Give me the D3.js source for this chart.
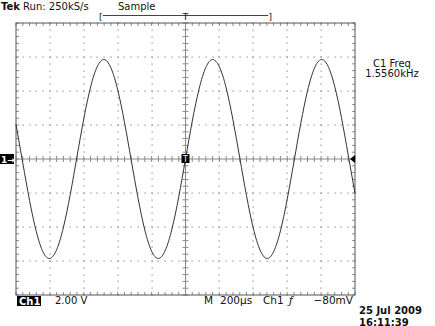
<!DOCTYPE html>
<html>
<head>
<meta charset="utf-8">
<script src="https://cdn.jsdelivr.net/npm/d3@7"></script>
<style>
  body { margin: 0; background: #fff; }
  text { font-family: "DejaVu Sans", sans-serif; fill: #111; }
</style>
</head>
<body>
<div id="chart"></div>
<script>
// time in microseconds (200us/div), voltage in volts (2V/div)
const times = d3.range(-1000, 1001, 40)
const volts = [
  2.02, -0.23, -2.44, -4.28, -5.48, -5.85, -5.33, -4.01, -2.09, 0.15,
  2.37, 4.23, 5.45, 5.85, 5.36, 4.07, 2.16, -0.08, -2.30, -4.18,
  -5.42, -5.85, -5.39, -4.12, -2.23, 0.00, 2.23, 4.12, 5.39, 5.85,
  5.42, 4.18, 2.30, 0.08, -2.16, -4.07, -5.36, -5.85, -5.45, -4.23,
  -2.37, -0.15, 2.09, 4.01, 5.33, 5.85, 5.48, 4.28, 2.44, 0.23, -2.02
]
const xDivs = d3.range(-1000, 1001, 200)
const yDivs = d3.range(-8, 8.01, 2)

const width = 435
const height = 326
const plot = { left: 16, right: 355, top: 23, bottom: 295 }

const svg = d3.select("#chart").append("svg")
  .attr("width", width)
  .attr("height", height)

const xPositionScale = d3.scaleLinear()
  .domain([-1000, 1000])
  .range([plot.left, plot.right])

const yPositionScale = d3.scaleLinear()
  .domain([-8, 8])
  .range([plot.bottom, plot.top])

const minorX = d3.range(-1000, 1001, 40)
const minorY = d3.range(-8, 8.01, 0.4)
const gridColor = '#8a8a8a'

// dotted graticule
const dots = []
xDivs.slice(1, -1).filter(d => d !== 0).forEach(t => {
  minorY.forEach(v => dots.push([t, v]))
})
yDivs.slice(1, -1).filter(d => d !== 0).forEach(v => {
  minorX.forEach(t => dots.push([t, v]))
})
svg.append('g').selectAll('rect')
  .data(dots)
  .join('rect')
  .attr('x', d => Math.round(xPositionScale(d[0])) - 0.5)
  .attr('y', d => Math.round(yPositionScale(d[1])) - 0.5)
  .attr('width', 1.2)
  .attr('height', 1.2)
  .attr('fill', gridColor)

// center crosshair with ticks
const cx = xPositionScale(0)
const cy = yPositionScale(0)
svg.append('line')
  .attr('x1', plot.left).attr('x2', plot.right)
  .attr('y1', cy).attr('y2', cy)
  .attr('stroke', gridColor)
svg.append('line')
  .attr('x1', cx).attr('x2', cx)
  .attr('y1', plot.top).attr('y2', plot.bottom)
  .attr('stroke', gridColor)
svg.append('g').selectAll('line')
  .data(minorX)
  .join('line')
  .attr('x1', d => xPositionScale(d)).attr('x2', d => xPositionScale(d))
  .attr('y1', cy - 3).attr('y2', cy + 3)
  .attr('stroke', gridColor)
svg.append('g').selectAll('line')
  .data(minorY)
  .join('line')
  .attr('y1', d => yPositionScale(d)).attr('y2', d => yPositionScale(d))
  .attr('x1', cx - 3).attr('x2', cx + 3)
  .attr('stroke', gridColor)

// border ticks
svg.append('g').selectAll('line')
  .data(minorX)
  .join('line')
  .attr('x1', d => xPositionScale(d)).attr('x2', d => xPositionScale(d))
  .attr('y1', plot.top).attr('y2', plot.top + 3)
  .attr('stroke', gridColor)
svg.append('g').selectAll('line')
  .data(minorX)
  .join('line')
  .attr('x1', d => xPositionScale(d)).attr('x2', d => xPositionScale(d))
  .attr('y1', plot.bottom).attr('y2', plot.bottom - 3)
  .attr('stroke', gridColor)
svg.append('g').selectAll('line')
  .data(minorY)
  .join('line')
  .attr('y1', d => yPositionScale(d)).attr('y2', d => yPositionScale(d))
  .attr('x1', plot.left).attr('x2', plot.left + 3)
  .attr('stroke', gridColor)
svg.append('g').selectAll('line')
  .data(minorY)
  .join('line')
  .attr('y1', d => yPositionScale(d)).attr('y2', d => yPositionScale(d))
  .attr('x1', plot.right).attr('x2', plot.right - 3)
  .attr('stroke', gridColor)

svg.append('rect')
  .attr('x', plot.left)
  .attr('y', plot.top)
  .attr('width', plot.right - plot.left)
  .attr('height', plot.bottom - plot.top)
  .attr('fill', 'none')
  .attr('stroke', '#555')

// the trace
const line = d3.line()
  .x((d, i) => xPositionScale(times[i]))
  .y(d => yPositionScale(d))
  .curve(d3.curveNatural)

svg.append('path')
  .datum(volts)
  .attr('d', line)
  .attr('fill', 'none')
  .attr('stroke', '#333')
  .attr('stroke-width', 1)

// markers
svg.append('rect')
  .attr('x', 0).attr('y', cy - 5)
  .attr('width', 14).attr('height', 10)
  .attr('fill', '#000')
svg.append('text')
  .attr('x', 1).attr('y', cy + 4)
  .attr('font-size', 9)
  .attr('font-weight', 'bold')
  .style('fill', '#fff')
  .text('1→')

svg.append('rect')
  .attr('x', cx - 4).attr('y', cy - 5)
  .attr('width', 8).attr('height', 9)
  .attr('fill', '#000')
svg.append('text')
  .attr('x', cx).attr('y', cy + 3)
  .attr('text-anchor', 'middle')
  .attr('font-size', 8)
  .style('fill', '#fff')
  .text('T')

svg.append('path')
  .attr('d', `M${plot.right - 5},${cy} L${plot.right},${cy - 4} L${plot.right},${cy + 4} Z`)
  .attr('fill', '#000')

// top bar
svg.append('text')
  .attr('x', 1).attr('y', 10)
  .attr('font-size', 10)
  .html('<tspan font-weight="bold">Tek</tspan> Run: 250kS/s')
svg.append('text')
  .attr('x', 118).attr('y', 10)
  .attr('font-size', 10)
  .text('Sample')

const bracketLeft = xPositionScale(-500)
const bracketRight = xPositionScale(500)
svg.append('line')
  .attr('x1', bracketLeft + 2).attr('x2', bracketRight - 2)
  .attr('y1', 15.5).attr('y2', 15.5)
  .attr('stroke', '#444')
svg.append('text')
  .attr('x', bracketLeft).attr('y', 20)
  .attr('font-size', 9).attr('text-anchor', 'middle')
  .text('[')
svg.append('text')
  .attr('x', bracketRight).attr('y', 20)
  .attr('font-size', 9).attr('text-anchor', 'middle')
  .text(']')
svg.append('text')
  .attr('x', cx).attr('y', 20)
  .attr('font-size', 9).attr('text-anchor', 'middle')
  .text('T')

// measurement
svg.append('text')
  .attr('x', 392).attr('y', 67)
  .attr('font-size', 10).attr('text-anchor', 'middle')
  .text('C1 Freq')
svg.append('text')
  .attr('x', 392).attr('y', 77)
  .attr('font-size', 10).attr('text-anchor', 'middle')
  .text('1.5560kHz')

// bottom bar
svg.append('rect')
  .attr('x', 17).attr('y', 296)
  .attr('width', 24).attr('height', 10)
  .attr('fill', '#000')
svg.append('text')
  .attr('x', 19).attr('y', 305)
  .attr('font-size', 10).attr('font-weight', 'bold')
  .style('fill', '#fff')
  .text('Ch1')
svg.append('text')
  .attr('x', 55).attr('y', 304)
  .attr('font-size', 10)
  .text('2.00 V')
svg.append('text')
  .attr('x', 204).attr('y', 304)
  .attr('font-size', 10.5)
  .text('M')
svg.append('text')
  .attr('x', 220).attr('y', 304)
  .attr('font-size', 10.5)
  .text('200µs')
svg.append('text')
  .attr('x', 263).attr('y', 304)
  .attr('font-size', 10.5)
  .text('Ch1')
svg.append('text')
  .attr('x', 289).attr('y', 304)
  .attr('font-size', 10.5)
  .attr('font-style', 'italic')
  .text('ƒ')
svg.append('text')
  .attr('x', 353).attr('y', 304)
  .attr('font-size', 10.5).attr('text-anchor', 'end')
  .text('−80mV')
svg.append('text')
  .attr('x', 359).attr('y', 314)
  .attr('font-size', 10)
  .attr('font-weight', 'bold')
  .text('25 Jul 2009')
svg.append('text')
  .attr('x', 359).attr('y', 325.5)
  .attr('font-size', 10)
  .attr('font-weight', 'bold')
  .text('16:11:39')
</script>
</body>
</html>
